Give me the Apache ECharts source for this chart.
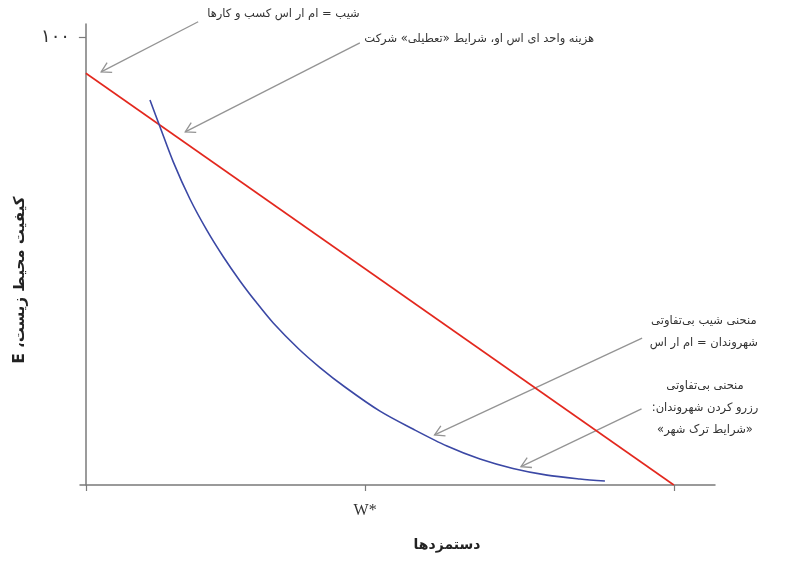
<!DOCTYPE html>
<html>
<head>
<meta charset="utf-8">
<script src="https://cdn.jsdelivr.net/npm/echarts@6/dist/echarts.min.js"></script>
<style>
html,body{margin:0;padding:0;background:#fff;}
#chart{width:810px;height:563px;direction:rtl;}
</style>
</head>
<body>
<div id="chart" dir="rtl"></div>
<script>
// Red line: ASO unit cost (slope = MRS of business)
const redLine = [[0, 92], [100, 0]];
// Blue curve: citizens' reservation indifference curve
const blueCurve = [[10.9,86.0],[12.6,80.05],[14.86,72.2],[17.7,63.9],[20.54,57.0],[23.37,51.0],[26.21,45.6],[29.05,40.7],[31.87,36.2],[36.12,30.5],[39.81,26.25],[44.06,21.9],[50.02,16.5],[55.63,12.5],[61.41,8.7],[67.03,5.8],[72.64,3.7],[78.42,2.2],[84.03,1.35],[88.28,0.9]];
// x-axis ticks and labels
const xTicks = [0, 47.5, 100];
const xLabelValues = [47.5];
const xLabelText = ['W*\u200E'];
// y-axis ticks and labels
const yTicks = [100];
const yLabelText = ['۱۰۰'];
// annotation arrows: [x1, y1, x2(tip), y2(tip)]
const arrowLines = [[19.1,103.5,2.6,92.3],[46.6,98.8,16.9,78.9],[94.6,32.8,59.3,11.2],[94.5,17.0,74.0,4.1]];
// annotation texts and their centre positions
const noteTexts = [
  'شیب = ام ار اس کسب و کارها',
  'هزینه واحد ای اس او، شرایط «تعطیلی» شرکت',
  'منحنی شیب بی\u200cتفاوتی\nشهروندان = ام ار اس',
  'منحنی بی\u200cتفاوتی\nرزرو کردن شهروندان:\n«شرایط ترک شهر»'
];
const notePos = [[33.6,105.2],[66.9,99.7],[105.1,34.2],[105.3,17.2]];
const xTitle = 'دستمزدها';
const yTitle = 'کیفیت محیط زیست، E';

const persianFont = "'DejaVu Sans', 'Noto Sans', sans-serif";
const axisColor = '#7a7a7a';

const chart = echarts.init(document.getElementById('chart'), null, {renderer: 'canvas'});
chart.setOption({
  backgroundColor: '#ffffff',
  animation: false,
  grid: {left: 80, right: 95, top: 24, bottom: 78},
  xAxis: {
    type: 'value', min: -1, max: 107,
    splitLine: {show: false},
    axisLine: {show: true, onZero: true, lineStyle: {color: axisColor, width: 1.5}},
    axisTick: {show: true, customValues: xTicks, length: 6, lineStyle: {color: axisColor, width: 1.2}},
    axisLabel: {
      show: true, customValues: xLabelValues, margin: 18,
      formatter: function (v) { const i = xLabelValues.indexOf(v); return i >= 0 ? xLabelText[i] : ''; },
      color: '#333', fontSize: 16, fontFamily: "'Liberation Serif', 'DejaVu Serif', serif"
    }
  },
  yAxis: {
    type: 'value', min: 0, max: 103,
    splitLine: {show: false},
    axisLine: {show: true, onZero: true, lineStyle: {color: axisColor, width: 1.5}},
    axisTick: {show: true, customValues: yTicks, length: 7, lineStyle: {color: axisColor, width: 1.2}},
    axisLabel: {
      show: true, customValues: yTicks, margin: 10,
      formatter: function (v) { const i = yTicks.indexOf(v); return i >= 0 ? yLabelText[i] : ''; },
      color: '#333', fontSize: 18, fontFamily: persianFont
    }
  },
  graphic: [
    {type: 'text', x: 447, y: 545, silent: true,
     style: {text: xTitle, align: 'center', verticalAlign: 'middle', fill: '#222', font: 'bold 14px ' + persianFont}},
    {type: 'text', x: 20, y: 280, rotation: Math.PI / 2, silent: true,
     style: {text: yTitle, align: 'center', verticalAlign: 'middle', fill: '#222', font: 'bold 15px ' + persianFont}}
  ],
  series: [
    {
      type: 'line', data: redLine, symbol: 'none', silent: true,
      lineStyle: {color: '#e3281e', width: 1.6}
    },
    {
      type: 'line', data: blueCurve, symbol: 'none', smooth: 0.3, silent: true,
      lineStyle: {color: '#3b48a5', width: 1.6}
    },
    {
      type: 'custom', silent: true, clip: false,
      dimensions: ['x1', 'y1', 'x2', 'y2'],
      encode: {x: [0, 2], y: [1, 3]},
      data: arrowLines,
      renderItem: function (params, api) {
        const a = api.coord([api.value(0), api.value(1)]);
        const b = api.coord([api.value(2), api.value(3)]);
        const ang = Math.atan2(a[1] - b[1], a[0] - b[0]);
        const L = 11, th = Math.PI / 6;
        const p1 = [b[0] + L * Math.cos(ang + th), b[1] + L * Math.sin(ang + th)];
        const p2 = [b[0] + L * Math.cos(ang - th), b[1] + L * Math.sin(ang - th)];
        const st = {stroke: '#949494', lineWidth: 1.3, fill: null};
        return {
          type: 'group',
          children: [
            {type: 'line', shape: {x1: a[0], y1: a[1], x2: b[0], y2: b[1]}, style: st},
            {type: 'polyline', shape: {points: [p1, b, p2]}, style: st}
          ]
        };
      }
    },
    {
      type: 'custom', silent: true, clip: false,
      data: notePos,
      renderItem: function (params, api) {
        const c = api.coord([api.value(0), api.value(1)]);
        return {
          type: 'text', x: c[0], y: c[1],
          style: {
            text: noteTexts[params.dataIndex], align: 'center', verticalAlign: 'middle',
            fill: '#333', font: '11.5px ' + persianFont, lineHeight: 22
          }
        };
      }
    }
  ]
});
</script>
</body>
</html>
